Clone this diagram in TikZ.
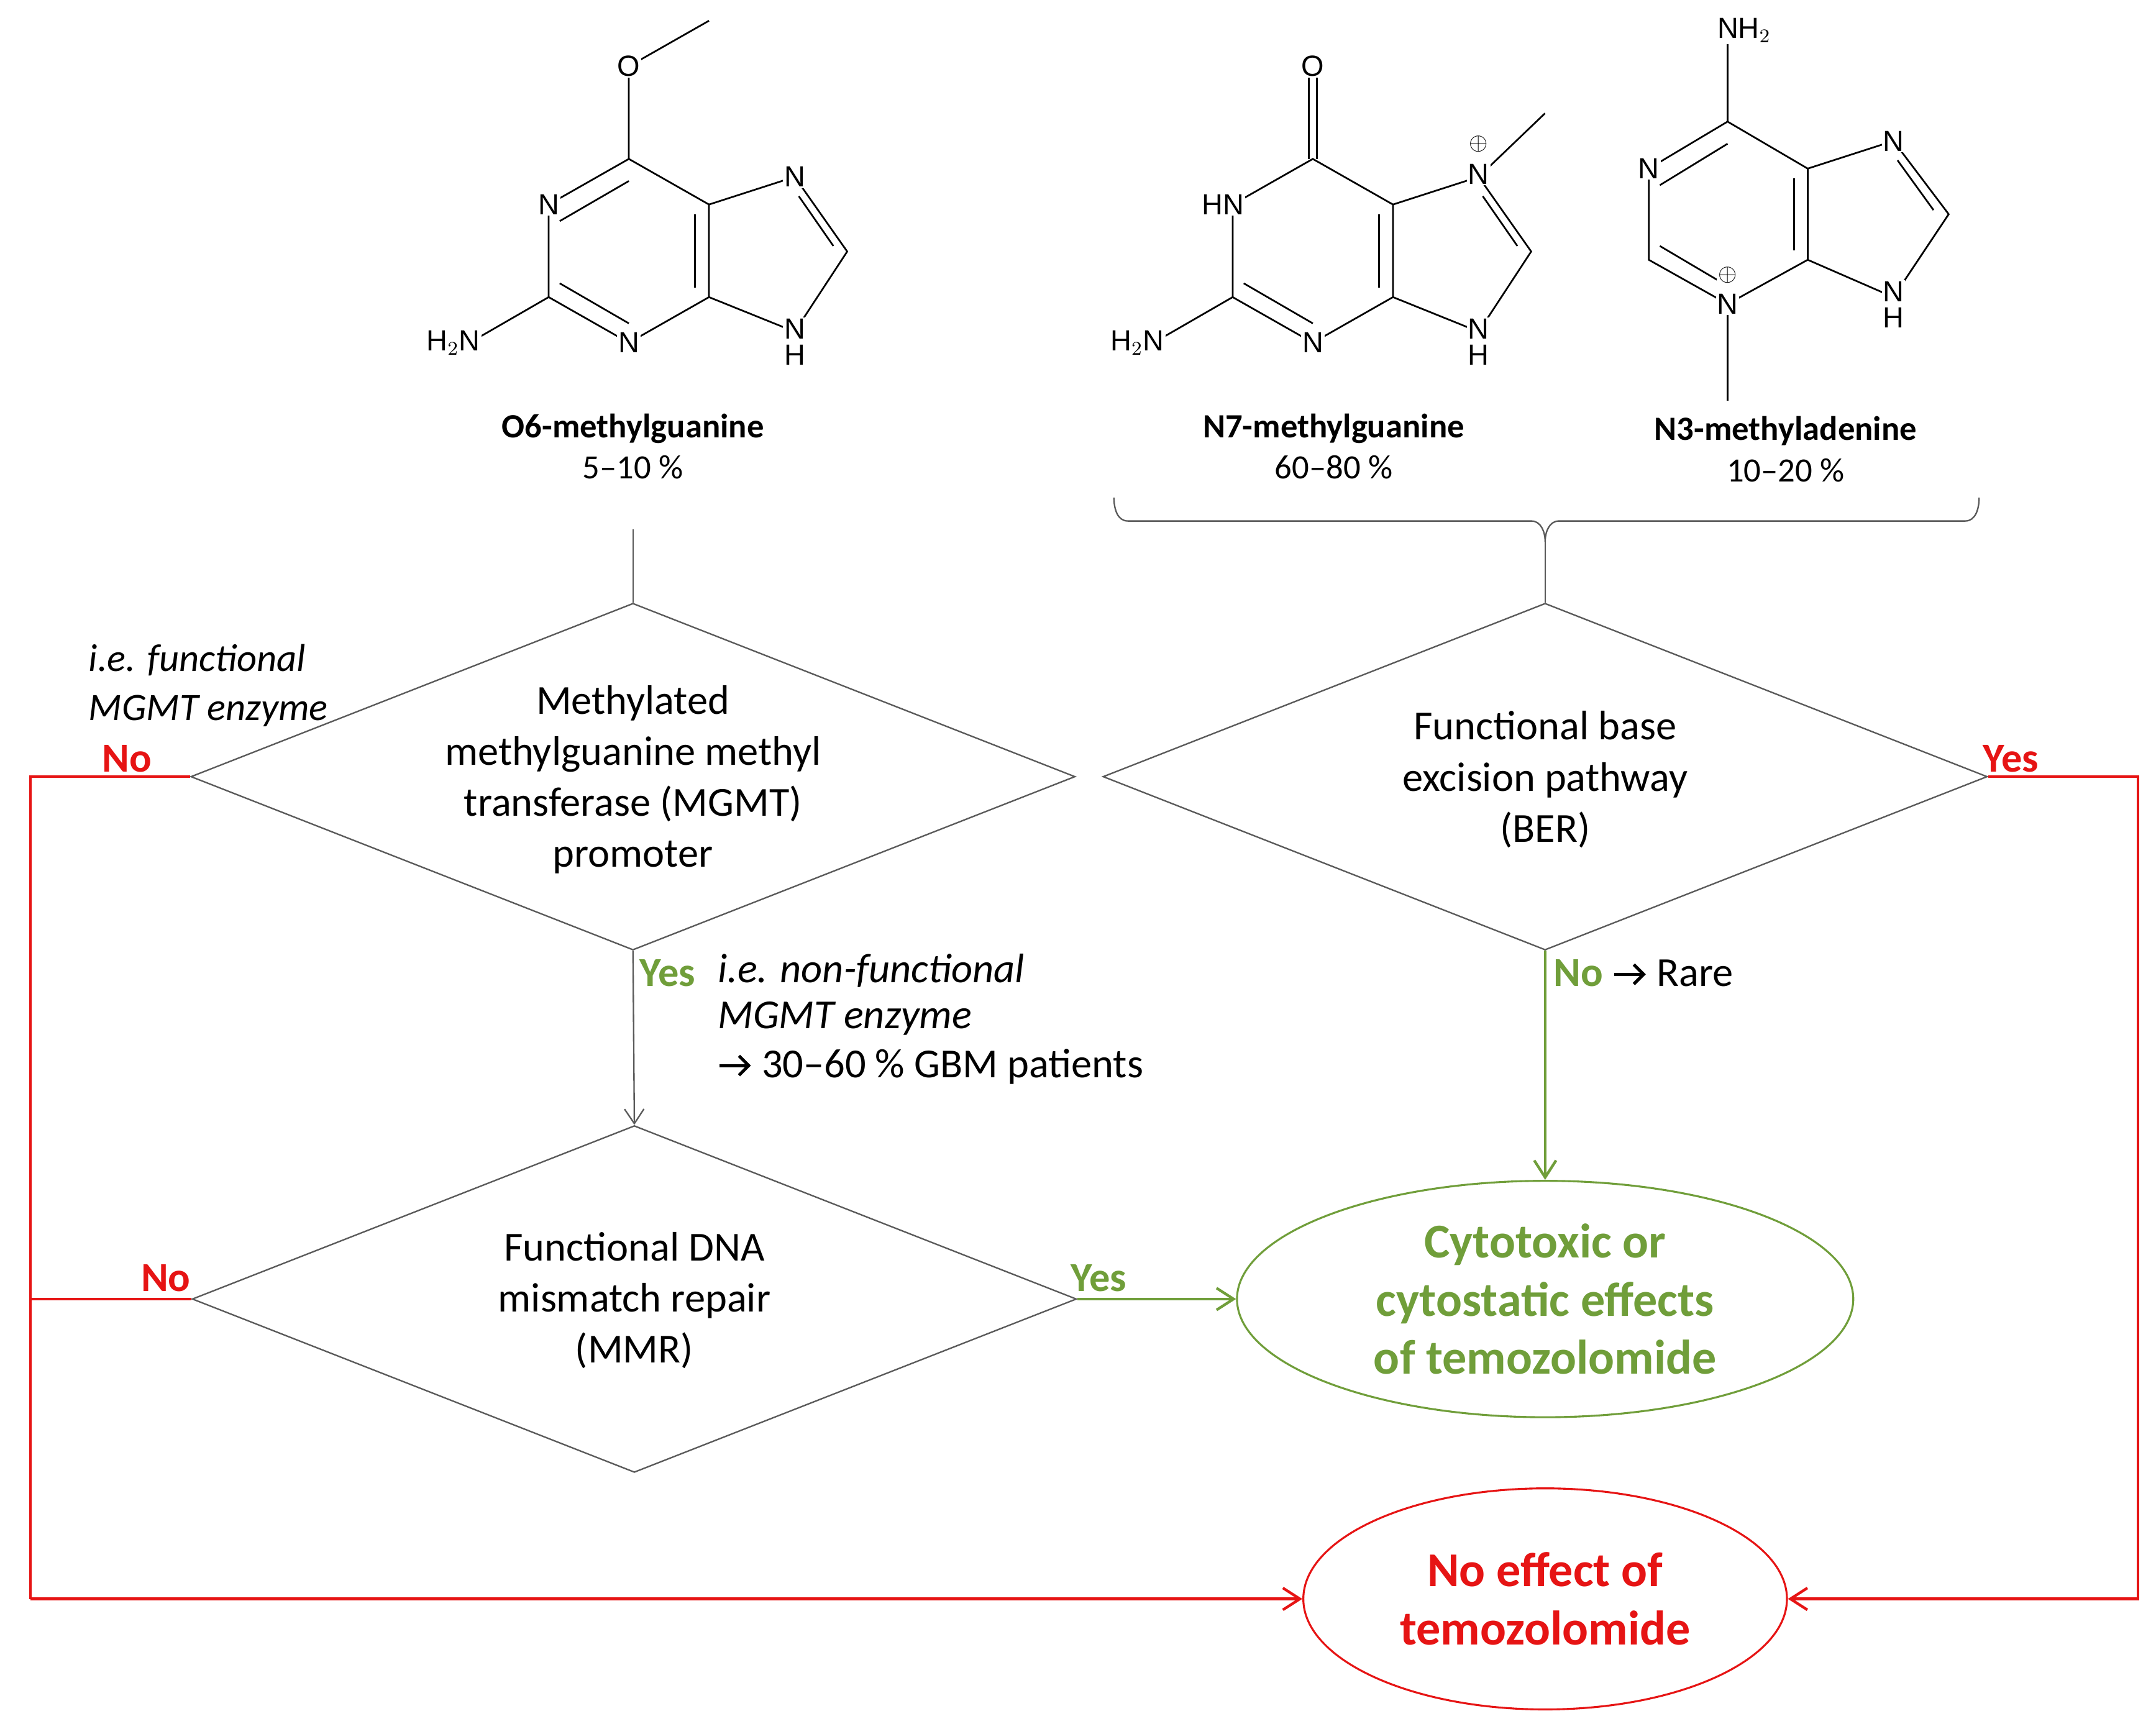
\documentclass[tikz,border=0pt]{standalone}
\usepackage{amsmath}
\usepackage{fontspec}
\setmainfont{Carlito}
\newfontfamily\atomf{Liberation Sans}
\usetikzlibrary{shapes.geometric,arrows.meta}
\definecolor{rd}{RGB}{230,20,20}
\definecolor{gr}{RGB}{112,158,58}
\definecolor{gl}{RGB}{90,90,90}
\newcommand{\rarr}{\tikz[baseline=-0.6ex,x=1pt,y=1pt]\draw[line width=1.3pt,-{Straight Barb[length=4pt,width=8pt]}] (0,0)--(13,0);}
\begin{document}
\begin{tikzpicture}[x=0.02cm,y=-0.02cm,
  dia/.style={draw=gl,line width=0.6pt,diamond,minimum width=12.8cm,minimum height=5.02cm,inner sep=0},
  txt/.style={font=\fontsize{17}{21}\selectfont,align=center},
  atm/.style={font=\atomf\fontsize{12}{12}\selectfont,inner sep=0.5pt,fill=white},
  bd/.style={line width=0.7pt},
  rl/.style={draw=rd,line width=1.1pt},
  gl2/.style={draw=gr,line width=1.1pt},
  tip/.style={-{Straight Barb[length=7pt,width=9pt]}},
  mol/.style={font=\fontsize{14}{17}\selectfont,align=center}]
\useasboundingbox (0,0) rectangle (1560,1251);
% ---------- molecule 1: O6-methylguanine
\begin{scope}
\draw[bd] (455,115)--(513,148)--(513,215)--(455,248)--(397,215)--(397,148)--cycle;
\draw[bd] (405,160)--(455,131);
\draw[bd] (405,205)--(455,234);
\draw[bd] (503,155)--(503,208);
\draw[bd] (513,148)--(575,128)--(613,182)--(575,240)--(513,215);
\draw[bd] (578,142)--(603,178);
\draw[bd] (455,115)--(455,48)--(513,15);
\draw[bd] (397,215)--(345,245);
\node[atm] (a1) at (397,148) {N};
\node[atm] (a2) at (455,248) {N};
\node[atm] (a3) at (575,128) {N};
\node[atm] (a4) at (575,238) {N};
\node[atm] (a5) at (575,257) {H};
\node[atm] (a6) at (455,48) {O};
\node[atm] (a7) at (328,248) {H$_2$N};
\end{scope}
% ---------- molecule 2: N7-methylguanine
\begin{scope}[xshift=9.9cm]
\draw[bd] (455,115)--(513,148)--(513,215)--(455,248)--(397,215)--(397,148)--cycle;
\draw[bd] (405,205)--(455,234);
\draw[bd] (503,155)--(503,208);
\draw[bd] (513,148)--(575,128)--(613,182)--(575,240)--(513,215);
\draw[bd] (578,142)--(603,178);
\draw[bd] (452,115)--(452,48);
\draw[bd] (458,115)--(458,48);
\draw[bd] (575,128)--(623,82);
\draw[bd] (397,215)--(345,245);
\node[atm] (b1) at (390,148) {HN};
\node[atm] (b2) at (455,248) {N};
\node[atm] (b3) at (575,126) {N};
\node[atm,font=\atomf\fontsize{10}{10}\selectfont] (b3p) at (575,104) {$\oplus$};
\node[atm] (b4) at (575,238) {N};
\node[atm] (b5) at (575,257) {H};
\node[atm] (b6) at (455,48) {O};
\node[atm] (b7) at (328,248) {H$_2$N};
\end{scope}
% ---------- molecule 3: N3-methyladenine
\begin{scope}
\draw[bd] (1250,88)--(1308,122)--(1308,188)--(1250,220)--(1193,188)--(1193,122)--cycle;
\draw[bd] (1201,134)--(1250,104);
\draw[bd] (1201,178)--(1245,204);
\draw[bd] (1298,129)--(1298,181);
\draw[bd] (1308,122)--(1370,102)--(1410,155)--(1370,215)--(1308,188);
\draw[bd] (1373,116)--(1399,152);
\draw[bd] (1250,88)--(1250,28);
\draw[bd] (1250,220)--(1250,290);
\node[atm] (c1) at (1193,122) {N};
\node[atm] (c2) at (1250,220) {N};
\node[atm,font=\atomf\fontsize{10}{10}\selectfont] (c2p) at (1250,199) {$\oplus$};
\node[atm] (c3) at (1370,102) {N};
\node[atm] (c4) at (1370,211) {N};
\node[atm] (c5) at (1370,230) {H};
\node[atm] (c6) at (1262,22) {NH$_2$};
\end{scope}
% ---------- molecule labels
\node[mol] (m1) at (458,323) {\textbf{O6-methylguanine}\\5--10 \%};
\node[mol] (m2) at (965,323) {\textbf{N7-methylguanine}\\60--80 \%};
\node[mol] (m3) at (1292,325) {\textbf{N3-methyladenine}\\10--20 \%};
% ---------- brace
\draw[gl,line width=0.6pt] (806,360) to[out=-90,in=180] (816,377) -- (1108,377) to[out=0,in=90] (1118,392)
  to[out=90,in=180] (1128,377) -- (1422,377) to[out=0,in=-90] (1432,360);
\coordinate (bt) at (1118,392);
\coordinate (s1) at (458,383);
% ---------- diamonds
\node[dia] (d1) at (458,562) {};
\node[txt] (t1) at (458,564) {Methylated\\methylguanine methyl\\transferase (MGMT)\\promoter};
\node[dia] (d2) at (1118,562) {};
\node[txt] (t2) at (1118,564) {Functional base\\excision pathway\\(BER)};
\node[dia] (d3) at (459,940) {};
\node[txt] (t3) at (459,941) {Functional DNA\\mismatch repair\\(MMR)};
% ---------- ellipses
\node[draw=gr,line width=0.8pt,ellipse,minimum width=8.92cm,minimum height=3.4cm,align=center,
  text=gr,font=\bfseries\fontsize{20}{24}\selectfont] (e1) at (1118,940) {Cytotoxic or\\cytostatic effects\\of temozolomide};
\node[draw=rd,line width=0.8pt,ellipse,minimum width=7cm,minimum height=3.2cm,align=center,
  text=rd,font=\bfseries\fontsize{20}{24}\selectfont] (e2) at (1118,1157) {No effect of\\temozolomide};
% ---------- connectors
\draw[gl,line width=0.6pt] (s1) -- (d1.north);
\draw[gl,line width=0.6pt] (bt) -- (d2.north);
\draw[gl,line width=0.6pt,-{Straight Barb[length=6pt,width=8pt]}] (d1.south) -- (d3.north);
\draw[gl2,tip] (d2.south) -- (e1.north);
\draw[gl2,tip] (d3.east) -- (e1.west);
\coordinate (l1) at (22,562);
\coordinate (l2) at (22,940);
\coordinate (l3) at (22,1157);
\coordinate (r1) at (1547,562);
\coordinate (r2) at (1547,1157);
\draw[rl] (d1.west) -- (l1) -- (l3);
\draw[rl] (d3.west) -- (l2);
\draw[rl,tip] (l3) -- (e2.west);
\draw[rl,tip] (d2.east) -- (r1) -- (r2) -- (e2.east);
% ---------- labels
\node[text=rd,font=\bfseries\fontsize{17}{20}\selectfont] (n1) at (92,549) {No};
\node[text=rd,font=\bfseries\fontsize{17}{20}\selectfont] (n2) at (120,925) {No};
\node[text=rd,font=\bfseries\fontsize{17}{20}\selectfont] (y1) at (1455,549) {Yes};
\node[text=gr,font=\bfseries\fontsize{17}{20}\selectfont] (y2) at (795,925) {Yes};
\node[text=gr,font=\bfseries\fontsize{17}{20}\selectfont] (y3) at (483,704) {Yes};
\node[font=\itshape\fontsize{16}{20}\selectfont,align=left,anchor=west] (i1) at (58,496) {i.e. functional\\MGMT enzyme};
\node[font=\fontsize{17}{21}\selectfont,align=left,anchor=north west,inner sep=0] (i2) at (519,690)
  {\textit{i.e. non-functional}\\[-2pt]\textit{MGMT enzyme}\\[-1pt]\rarr\ 30--60 \% GBM patients};
\node[font=\fontsize{17}{20}\selectfont,anchor=west,inner sep=0] (nr) at (1124,704) {\textcolor{gr}{\textbf{No}} \rarr\ Rare};
\end{tikzpicture}
\end{document}
